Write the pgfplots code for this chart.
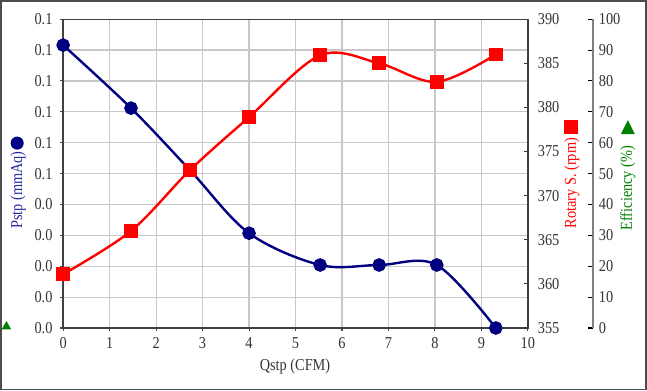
\documentclass[border=0pt]{standalone}
\usepackage{fontspec}
\setmainfont[FakeStretch=0.86]{Liberation Serif}
\usepackage{pgfplots}
\pgfplotsset{compat=1.18}
\definecolor{navy}{RGB}{0,0,128}
\definecolor{labblue}{RGB}{40,40,160}
\definecolor{effgreen}{RGB}{0,128,0}
\definecolor{gridc}{RGB}{200,200,200}
\begin{document}
\begin{tikzpicture}
% outer frame (647x390 px, 1px = 0.75pt)
\draw[black!70, line width=1.2pt] (0.45pt,0.45pt) rectangle (484.8pt,292.05pt);
\pgfplotsset{
  every tick label/.append style={font=\fontsize{12.5}{13}\selectfont, text=black!80},
  /pgf/number format/assume math mode=true,
}
% main axis: Pstp
\begin{axis}[
  at={(47.25pt,46.5pt)}, anchor=south west,
  scale only axis, width=348.75pt, height=231.75pt,
  xmin=0, xmax=10, ymin=0, ymax=0.1,
  xtick={0,1,...,10},
  ytick={0,0.01,0.02,0.03,0.04,0.05,0.06,0.07,0.08,0.09,0.1},
  yticklabels={0.0,0.0,0.0,0.0,0.0,0.1,0.1,0.1,0.1,0.1,0.1},
  xtick pos=bottom, ytick pos=left,
  tick align=outside, major tick length=2.5pt,
  tick style={black!70, line width=0.8pt},
  grid=major, grid style={gridc, line width=0.9pt},
  axis line style={black!75, line width=1pt},
  xticklabel style={yshift=-1pt},
  yticklabel style={xshift=-2pt},
  clip=false,
]
\addplot[navy, line width=1.8pt, smooth, tension=0.55,
  mark=*, mark size=4.2pt, mark options={fill=navy, draw=navy}]
  coordinates {(0,0.0916) (1.46,0.0712) (2.73,0.0511) (4.0,0.0307)
               (5.53,0.0204) (6.80,0.0204) (8.04,0.0204) (9.31,0)};
\end{axis}
% rotary speed axis
\begin{axis}[
  at={(47.25pt,46.5pt)}, anchor=south west,
  scale only axis, width=348.75pt, height=231.75pt,
  xmin=0, xmax=10, ymin=355, ymax=390,
  axis x line=none, axis y line*=right,
  ytick={355,360,...,390},
  tick align=inside, major tick length=3pt,
  tick style={black!80, line width=0.8pt},
  axis line style={black!75, line width=1pt},
  yticklabel style={xshift=4pt},
  clip=false,
]
\addplot[red, line width=1.8pt, smooth, tension=0.55,
  mark=square*, mark size=4.3pt, mark options={fill=red, draw=red}]
  coordinates {(0,361.1) (1.46,366.0) (2.73,372.9) (4.0,378.9)
               (5.53,385.9) (6.80,385.0) (8.04,382.9) (9.31,386.0)};
\end{axis}
% efficiency axis
\begin{axis}[
  at={(96pt,46.5pt)}, anchor=south west,
  scale only axis, width=348.75pt, height=231.75pt,
  xmin=0, xmax=10, ymin=0, ymax=100,
  axis x line=none, axis y line*=right,
  ytick={0,10,...,100},
  tick align=inside, major tick length=4pt,
  tick style={black, line width=0.8pt},
  axis line style={black!50, line width=1.2pt},
  yticklabel style={xshift=1pt},
]
\end{axis}
% axis titles and their symbols
\node[rotate=90, text=labblue, font=\fontsize{12.5}{13}\selectfont] at (13.5pt,150pt) {Pstp (mmAq)};
\fill[navy] (12.75pt,185.25pt) circle (4.9pt);
\node[rotate=90, text=red, font=\fontsize{12.5}{13}\selectfont] at (429pt,155.25pt) {Rotary S. (rpm)};
\fill[red] (423.4pt,192.4pt) rectangle (433.9pt,202.9pt);
\node[rotate=90, text=effgreen, font=\fontsize{12.5}{13}\selectfont] at (471pt,151.5pt) {Efficiency (\%)};
\fill[effgreen] (465.75pt,192pt) -- (476.25pt,192pt) -- (471pt,202.5pt) -- cycle;
\fill[effgreen] (1.1pt,45.4pt) -- (8.25pt,45.4pt) -- (4.7pt,51.75pt) -- cycle;
\node[text=black!80, font=\fontsize{12.5}{13}\selectfont] at (221.25pt,17.25pt) {Qstp (CFM)};
\end{tikzpicture}
\end{document}
